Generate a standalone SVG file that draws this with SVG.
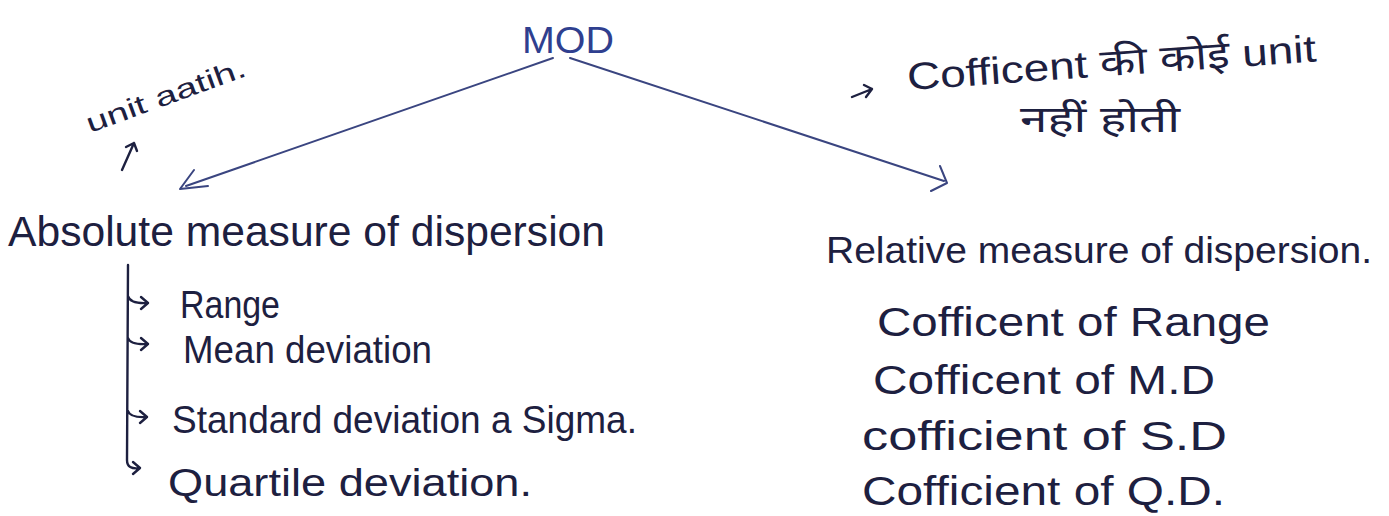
<svg xmlns="http://www.w3.org/2000/svg" width="1389" height="516" viewBox="0 0 1389 516">
<style>
.t{font-family:"Liberation Sans","Noto Sans","Noto Sans Devanagari",sans-serif;fill:#1d2040;}
.b{fill:#2f3f8f;}
.ln{fill:none;stroke:#3a4580;stroke-width:2;stroke-linecap:round;stroke-linejoin:round;}
.ink{fill:none;stroke:#1d2040;stroke-width:2.4;stroke-linecap:round;stroke-linejoin:round;}
</style>
<rect width="1389" height="516" fill="#ffffff"/>
<g id="mod">
<text class="t b" x="568" y="53" font-size="36" text-anchor="middle" textLength="92" lengthAdjust="spacingAndGlyphs">MOD</text>
</g>
<g id="note-left">
<text class="t" x="0" y="0" font-size="27" transform="translate(90,133) rotate(-20)" textLength="168" lengthAdjust="spacingAndGlyphs">unit aatih.</text>
<path class="ink" d="M122,170 L134,143 M126,147 L134,143 L137,151"/>
</g>
<g id="note-right">
<path class="ink" d="M852,97 L872,89 M864,85 L872,89 L866,97"/>
<text class="t" x="0" y="0" font-size="38" transform="translate(908,90) rotate(-4)" textLength="410" lengthAdjust="spacingAndGlyphs">Cofficent की कोई unit</text>
<text class="t" x="1020" y="132" font-size="36" textLength="160" lengthAdjust="spacingAndGlyphs">नहीं होती</text>
</g>
<g id="connectors">
<path class="ln" d="M553,58 L186,186 M194,170 L180,189 L208,186"/>
<path class="ln" d="M570,58 L944,181 M940,166 L947,183 L931,191"/>
<path class="ink" d="M128,265 L127,460 Q127,470 140,468 M128,296 Q130,304 148,303 M141,297 L148,303 L141,309 M128,338 Q130,345 148,344 M141,338 L148,344 L141,350 M128,411 Q130,418 147,417 M140,411 L147,417 L140,423 M133,462 L140,468 L133,474"/>
</g>
<g id="absolute">
<text class="t" x="8" y="246" font-size="42" textLength="597" lengthAdjust="spacingAndGlyphs">Absolute measure of dispersion</text>
</g>
<g id="absolute-items">
<text class="t" x="180" y="318" font-size="38" textLength="100" lengthAdjust="spacingAndGlyphs">Range</text>
<text class="t" x="183" y="363" font-size="38" textLength="249" lengthAdjust="spacingAndGlyphs">Mean deviation</text>
<text class="t" x="172" y="433" font-size="38" textLength="465" lengthAdjust="spacingAndGlyphs">Standard deviation a Sigma.</text>
<text class="t" x="168" y="496" font-size="38" textLength="364" lengthAdjust="spacingAndGlyphs">Quartile deviation.</text>
</g>
<g id="relative">
<text class="t" x="826" y="263" font-size="37" textLength="546" lengthAdjust="spacingAndGlyphs">Relative measure of dispersion.</text>
</g>
<g id="relative-items">
<text class="t" x="877" y="336" font-size="40" textLength="393" lengthAdjust="spacingAndGlyphs">Cofficent of Range</text>
<text class="t" x="873" y="394" font-size="40" textLength="342" lengthAdjust="spacingAndGlyphs">Cofficent of M.D</text>
<text class="t" x="862" y="450" font-size="40" textLength="365" lengthAdjust="spacingAndGlyphs">cofficient of S.D</text>
<text class="t" x="862" y="505" font-size="40" textLength="363" lengthAdjust="spacingAndGlyphs">Cofficient of Q.D.</text>
</g>
</svg>
